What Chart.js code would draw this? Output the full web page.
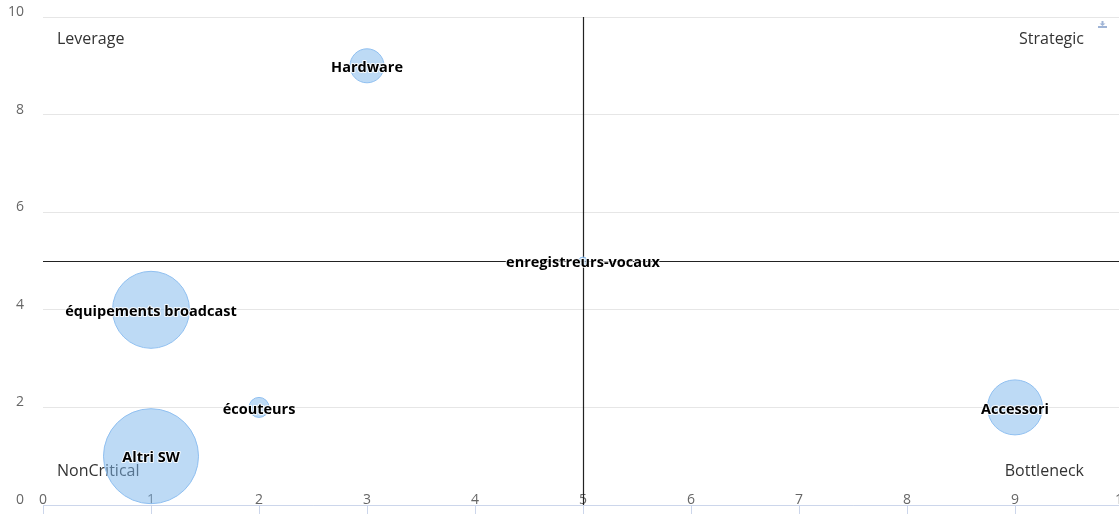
<!DOCTYPE html>
<html>
<head>
<meta charset="utf-8">
<script src="https://cdn.jsdelivr.net/npm/chart.js@4"></script>
<style>
  html, body { margin: 0; padding: 0; background: #fff; overflow: hidden; }
  #chartReport { width: 1130px; height: 514px; }
</style>
</head>
<body>
<div id="chartReport"><canvas id="myChart"></canvas></div>
<script>
const categories = ['Hardware', 'équipements broadcast', 'enregistreurs-vocaux', 'écouteurs', 'Altri SW', 'Accessori'];
const xValues = [3, 1, 5, 2, 1, 9];
const yValues = [9, 4, 5, 2, 1, 2];
const bubbleSize = [17, 38.5, 4, 10, 47.5, 27.5];
const xTicks = [0, 1, 2, 3, 4, 5, 6, 7, 8, 9, 10];
const yTicks = [0, 2, 4, 6, 8, 10];
const plotLineX = 5;
const plotLineY = 5;
const quadrants = ['Leverage', 'Strategic', 'NonCritical', 'Bottleneck'];

const bubbleData = categories.map((name, i) => ({ x: xValues[i], y: yValues[i], r: bubbleSize[i], name: name }));

// lignes de quadrant + textes
const quadrantPlugin = {
  id: 'quadrants',
  beforeDatasetsDraw(chart) {
    const { ctx, chartArea, scales } = chart;
    const px = Math.round(scales.x.getPixelForValue(plotLineX)) + 0.5;
    const py = Math.round(scales.y.getPixelForValue(plotLineY)) + 0.5;
    ctx.save();
    ctx.strokeStyle = '#222';
    ctx.lineWidth = 1.2;
    ctx.beginPath();
    ctx.moveTo(px, chartArea.top);
    ctx.lineTo(px, chartArea.bottom);
    ctx.moveTo(chartArea.left, py);
    ctx.lineTo(chartArea.right, py);
    ctx.stroke();

    ctx.fillStyle = '#333';
    ctx.font = '16px "Open Sans"';
    ctx.textBaseline = 'middle';
    ctx.textAlign = 'left';
    ctx.fillText(quadrants[0], chartArea.left + 14, chartArea.top + 22);
    ctx.fillText(quadrants[2], chartArea.left + 14, chartArea.bottom - 34);
    ctx.textAlign = 'right';
    ctx.fillText(quadrants[1], chartArea.right - 39, chartArea.top + 22);
    ctx.fillText(quadrants[3], chartArea.right - 39, chartArea.bottom - 34);
    ctx.restore();
  },
  afterDatasetsDraw(chart) {
    const { ctx } = chart;
    const meta = chart.getDatasetMeta(0);
    ctx.save();
    ctx.font = 'bold 14.5px "Open Sans"';
    ctx.textAlign = 'center';
    ctx.textBaseline = 'middle';
    ctx.lineJoin = 'round';
    meta.data.forEach((el, i) => {
      const label = chart.data.datasets[0].data[i].name;
      ctx.strokeStyle = 'rgba(255,255,255,0.85)';
      ctx.lineWidth = 2;
      ctx.strokeText(label, el.x, el.y + 2);
      ctx.fillStyle = '#000';
      ctx.fillText(label, el.x, el.y + 2);
    });

    // petite icone export
    const ix = chart.width - 32;
    const iy = 21;
    ctx.fillStyle = '#9fb4d6';
    ctx.fillRect(ix, iy + 5, 9, 2);
    ctx.fillRect(ix + 3.5, iy, 2, 3);
    ctx.beginPath();
    ctx.moveTo(ix + 1.5, iy + 2.5);
    ctx.lineTo(ix + 7.5, iy + 2.5);
    ctx.lineTo(ix + 4.5, iy + 5);
    ctx.closePath();
    ctx.fill();
    ctx.restore();
  }
};

const ctx = document.getElementById('myChart');
const chart = new Chart(ctx, {
  type: 'bubble',
  data: {
    datasets: [{
      label: 'Segments',
      data: bubbleData,
      backgroundColor: 'rgba(124,181,236,0.5)',
      borderColor: '#8fbff0',
      borderWidth: 1,
    }]
  },
  options: {
    responsive: true,
    maintainAspectRatio: false,
    animation: false,
    events: [],
    clip: false,
    layout: {
      autoPadding: false,
      padding: { left: 0, right: 7, top: 17, bottom: 0 }
    },
    scales: {
      x: {
        type: 'linear',
        min: 0,
        max: 10,
        afterBuildTicks: (scale) => { scale.ticks = xTicks.map(v => ({ value: v })); },
        afterFit: (scale) => {
          scale.height = 9;
          scale.paddingLeft = 0;
          scale.paddingRight = 0;
        },
        border: { display: true, color: '#ccd6eb', width: 1 },
        grid: {
          drawOnChartArea: false,
          drawTicks: true,
          tickLength: 9,
          color: '#ccd6eb',
        },
        ticks: {
          mirror: true,
          maxRotation: 0,
          autoSkip: false,
          padding: -3,
          color: '#666',
          font: { family: 'Open Sans', size: 14 },
        },
      },
      y: {
        type: 'linear',
        min: 0,
        max: 10,
        afterBuildTicks: (scale) => { scale.ticks = yTicks.map(v => ({ value: v })); },
        afterFit: (scale) => {
          scale.width = 43;
          scale.paddingTop = 0;
          scale.paddingBottom = 0;
        },
        border: { display: false },
        grid: {
          color: '#e6e6e6',
          drawTicks: false,
        },
        ticks: {
          padding: 19,
          labelOffset: -5,
          color: '#666',
          font: { family: 'Open Sans', size: 14 },
        },
      }
    },
    plugins: {
      legend: { display: false },
      title: { display: false },
      tooltip: { enabled: false },
    }
  },
  plugins: [quadrantPlugin]
});
</script>
</body>
</html>
